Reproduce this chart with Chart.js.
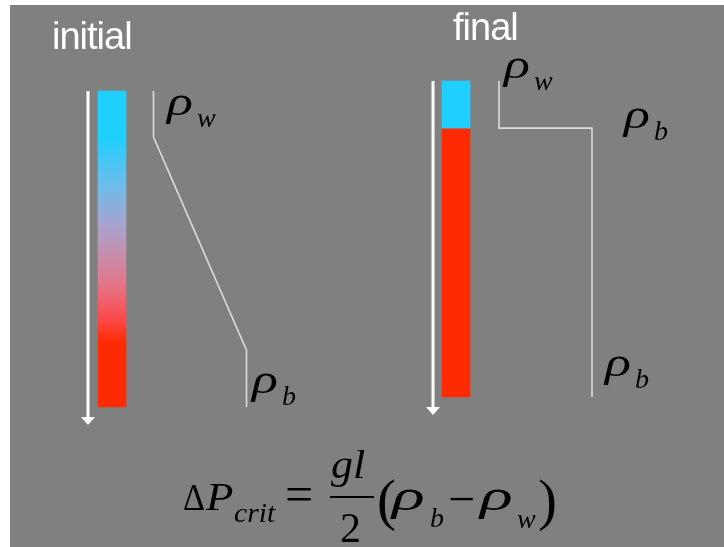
<!DOCTYPE html>
<html><head><meta charset="utf-8">
<script src="https://cdn.jsdelivr.net/npm/chart.js@4.4.1/dist/chart.umd.min.js"></script>
<style>
html,body{margin:0;padding:0;background:#fff;width:724px;height:547px;overflow:hidden;}
#bg{position:absolute;left:10px;top:5px;width:714px;height:542px;background:#808080;}
#c{position:absolute;left:0;top:0;}
.t{position:absolute;color:#fff;font-family:'Liberation Sans',Arial,sans-serif;font-size:38px;line-height:1;letter-spacing:-1px;white-space:nowrap;}
.m{position:absolute;color:#000;font-family:'Liberation Serif','Times New Roman',serif;line-height:1;white-space:nowrap;transform-origin:0 0;}
</style></head>
<body>
<div id="bg"></div>
<canvas id="c" width="724" height="547"></canvas>
<div class="t" style="left:52px;top:17px">initial</div>
<div class="t" style="left:453px;top:8px">final</div>
<div id="math"></div>
<script>
// ---- data ----
const panels = ['initial', 'final'];
const densityTicks = ['ρw', 'ρb'];           // density scale: 0 = ρw, 1 = ρb
const initialDepth = [0, 0.146, 0.82, 1];      // normalised depth along column
const initialDensity = [0, 0, 1, 1];
const finalDepth = [0, 0.149, 0.149, 1];
const finalDensity = [0, 0, 1, 1];
const finalInterface = [0, 0.149, 1];          // top, interface, bottom of the final column

// ---- scale helpers (layout only) ----
function fit(p0, p1, v0, v1, start, length) {
  const unit = (p1 - p0) / (v1 - v0);
  const min = v0 - (p0 - start) / unit;
  return { min: min, max: min + length / unit };
}
const W = 724, H = 547;
const CYAN = '#1ecfff', RED = '#ff2a00';

function gradientFill(ctx) {
  const chart = ctx.chart;
  const ys = chart.scales.yI;
  if (!ys) return RED;
  const top = ys.getPixelForValue(0), bot = ys.getPixelForValue(1);
  if (!isFinite(top) || !isFinite(bot) || top === bot) return RED;
  const g = chart.ctx.createLinearGradient(0, top, 0, bot);
  g.addColorStop(0, CYAN);
  g.addColorStop(0.146, CYAN);
  g.addColorStop(0.30, '#6ebce9');
  g.addColorStop(0.43, '#a9a2cb');
  g.addColorStop(0.60, '#e07a8e');
  g.addColorStop(0.72, '#fb4a4c');
  g.addColorStop(0.80, RED);
  g.addColorStop(1, RED);
  return g;
}

const arrows = {
  id: 'arrows',
  afterDatasetsDraw(chart) {
    const ctx = chart.ctx;
    const cols = [
      { meta: chart.getDatasetMeta(0), ys: chart.scales.yI, dx: -24 },
      { meta: chart.getDatasetMeta(1), ys: chart.scales.yF, dx: -23 }
    ];
    ctx.save();
    cols.forEach(c => {
      const el = c.meta.data[0];
      if (!el) return;
      const x = el.x + c.dx;
      const top = c.ys.getPixelForValue(0);
      const bot = c.ys.getPixelForValue(1) + 18;
      ctx.strokeStyle = '#fff';
      ctx.lineWidth = 3;
      ctx.beginPath();
      ctx.moveTo(x, top);
      ctx.lineTo(x, bot - 7);
      ctx.stroke();
      ctx.fillStyle = '#fff';
      ctx.beginPath();
      ctx.moveTo(x - 7, bot - 8);
      ctx.lineTo(x + 7, bot - 8);
      ctx.lineTo(x, bot);
      ctx.closePath();
      ctx.fill();
    });
    ctx.restore();
  }
};

const hidden = { display: false, bounds: 'data', offset: false, grid: { display: false, offset: false }, ticks: { display: false } };
const targets = {
  xc: [112, 456], xI: [153.5, 246.5], xF: [499, 592],
  yI: [91, 407], yF: [81, 397]
};
function scaleOpts(area) {
  const o = {};
  for (const id in targets) {
    const horiz = id[0] === 'x';
    const f = horiz ? fit(targets[id][0], targets[id][1], 0, 1, area.left, area.right - area.left)
                    : fit(targets[id][0], targets[id][1], 0, 1, area.top, area.bottom - area.top);
    o[id] = Object.assign({ type: 'linear', axis: horiz ? 'x' : 'y' }, hidden, f, horiz ? {} : { reverse: true });
  }
  return o;
}

const chart = new Chart(document.getElementById('c'), {
  type: 'bar',
  data: {
    datasets: [
      { label: panels[0], type: 'bar', xAxisID: 'xc', yAxisID: 'yI', grouped: false, barThickness: 28,
        data: [{ x: 0, y: [initialDepth[0], initialDepth[initialDepth.length - 1]] }],
        backgroundColor: gradientFill, borderWidth: 0 },
      { label: panels[1] + ' water', type: 'bar', xAxisID: 'xc', yAxisID: 'yF', grouped: false, barThickness: 28,
        data: [{ x: 1, y: [finalInterface[0], finalInterface[1]] }], backgroundColor: CYAN, borderWidth: 0 },
      { label: panels[1] + ' brine', type: 'bar', xAxisID: 'xc', yAxisID: 'yF', grouped: false, barThickness: 28,
        data: [{ x: 1, y: [finalInterface[1], finalInterface[2]] }], backgroundColor: RED, borderWidth: 0 },
      { label: panels[0] + ' density', type: 'line', xAxisID: 'xI', yAxisID: 'yI',
        data: initialDepth.map((d, i) => ({ x: initialDensity[i], y: d })),
        borderColor: '#dcdcdc', borderWidth: 1.6, pointRadius: 0, tension: 0, fill: false },
      { label: panels[1] + ' density', type: 'line', xAxisID: 'xF', yAxisID: 'yF',
        data: finalDepth.map((d, i) => ({ x: finalDensity[i], y: d })),
        borderColor: '#dcdcdc', borderWidth: 1.6, pointRadius: 0, tension: 0, fill: false }
    ]
  },
  options: {
    responsive: false, devicePixelRatio: 1, animation: false,
    layout: { padding: 0, autoPadding: false },
    plugins: { legend: { display: false }, tooltip: { enabled: false } },
    scales: scaleOpts({ left: 0, right: W, top: 0, bottom: H })
  },
  plugins: [arrows]
});
for (let k = 0; k < 2; k++) {
  chart.options.scales = scaleOpts(chart.chartArea);
  chart.update();
}

// ---- text (math labels) ----
const math = document.getElementById('math');
function put(txt, x, base, size, italic, sx) {
  const d = document.createElement('div');
  d.className = 'm';
  d.textContent = txt;
  d.style.fontSize = size + 'px';
  d.style.fontStyle = italic ? 'italic' : 'normal';
  d.style.left = x + 'px';
  d.style.top = (base - 0.8375 * size) + 'px';
  if (sx) d.style.transform = 'scaleX(' + sx + ')';
  math.appendChild(d);
  return d;
}
function rho(sub, x, base) {
  put('ρ', x - 3, base, 41, true, 1.32);
  put(sub, x + 27, base + 12, 28, true);
}
rho(densityTicks[0].slice(1), 170, 115);
rho(densityTicks[1].slice(1), 255, 393);
rho(densityTicks[0].slice(1), 507, 78);
rho(densityTicks[1].slice(1), 627, 128);
rho(densityTicks[1].slice(1), 608, 376);

// equation  ΔP_crit = gl/2 (ρb − ρw)
put('Δ', 183, 510, 38, false, 0.9);
put('P', 206, 510, 40, true, 1.12);
put('crit', 234, 523, 27, true, 1.1);
put('=', 285, 511, 50, false);
put('gl', 331, 478, 40, true, 1.1);
const bar = document.createElement('div');
bar.style.cssText = 'position:absolute;left:330px;top:496px;width:44px;height:2px;background:#000;';
math.appendChild(bar);
put('2', 340, 542, 42, false);
put('(', 377, 519, 57, false);
put('ρ', 392, 511, 44, true, 1.55);
put('b', 430, 527, 28, true);
put('−', 448, 515, 48, false);
put('ρ', 480, 511, 44, true, 1.55);
put('w', 517, 528, 28, true);
put(')', 538, 519, 57, false);
</script>
</body></html>
